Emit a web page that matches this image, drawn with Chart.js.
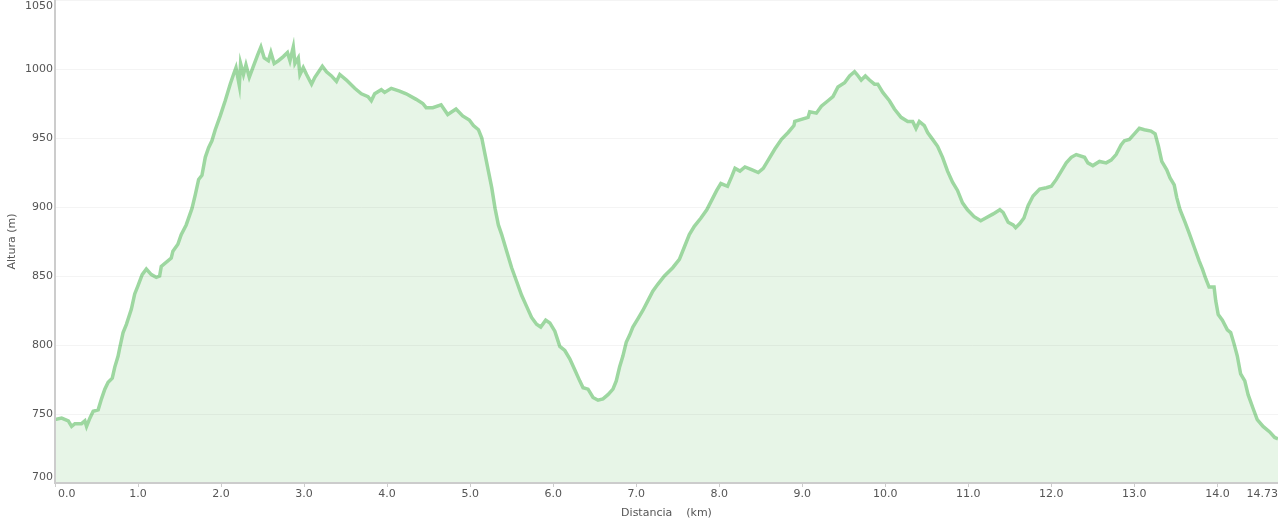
<!DOCTYPE html>
<html>
<head>
<meta charset="utf-8">
<title>Perfil</title>
<script src="https://cdn.jsdelivr.net/npm/chart.js@4.4.0/dist/chart.umd.min.js"></script>
<style>
html,body{margin:0;padding:0;background:#fff;}
#wrap{width:1278px;height:524px;}
</style>
</head>
<body>
<div id="wrap"><canvas id="perfil"></canvas></div>
<script>
// datos del perfil
let distancia = [0.00,0.08,0.16,0.20,0.24,0.32,0.36,0.38,0.42,0.46,0.52,0.56,0.60,0.64,0.69,0.72,0.76,0.78,0.82,0.86,
	0.92,0.96,1.00,1.05,1.10,1.16,1.22,1.26,1.28,1.40,1.42,1.48,1.52,1.58,1.65,1.69,1.73,1.77,1.81,1.85,
	1.89,1.93,1.99,2.05,2.11,2.15,2.18,2.22,2.235,2.27,2.30,2.34,2.39,2.44,2.48,2.52,2.57,2.60,2.64,2.69,
	2.75,2.80,2.83,2.87,2.89,2.93,2.95,2.99,3.03,3.09,3.13,3.22,3.27,3.33,3.39,3.43,3.51,3.61,3.69,3.77,
	3.81,3.85,3.93,3.97,4.05,4.15,4.23,4.35,4.43,4.47,4.55,4.65,4.73,4.83,4.91,4.99,5.04,5.10,5.14,5.18,
	5.22,5.26,5.30,5.34,5.38,5.44,5.50,5.56,5.62,5.68,5.74,5.80,5.85,5.91,5.96,6.02,6.08,6.14,6.20,6.26,
	6.32,6.36,6.42,6.48,6.54,6.60,6.66,6.72,6.76,6.80,6.84,6.88,6.92,6.96,7.02,7.08,7.14,7.20,7.26,7.34,
	7.44,7.52,7.58,7.64,7.70,7.78,7.85,7.91,7.97,8.02,8.10,8.15,8.19,8.25,8.31,8.39,8.47,8.53,8.59,8.67,
	8.75,8.83,8.90,8.91,9.07,9.09,9.17,9.23,9.31,9.37,9.43,9.51,9.57,9.63,9.66,9.71,9.76,9.81,9.87,9.91,
	9.97,10.05,10.11,10.19,10.27,10.33,10.37,10.41,10.47,10.51,10.57,10.63,10.69,10.75,10.81,10.87,10.93,10.99,11.07,11.15,
	11.21,11.30,11.38,11.42,11.48,11.54,11.57,11.62,11.67,11.72,11.78,11.86,11.94,12.00,12.06,12.12,12.18,12.24,12.30,12.40,
	12.44,12.50,12.58,12.66,12.72,12.78,12.84,12.88,12.94,13.00,13.06,13.12,13.20,13.25,13.29,13.33,13.39,13.43,13.48,13.51,
	13.55,13.61,13.66,13.72,13.78,13.82,13.86,13.90,13.96,13.98,14.01,14.06,14.12,14.16,14.20,14.24,14.28,14.33,14.37,14.43,
	14.48,14.55,14.63,14.69,14.73];
let altura = [746,747,745,741,743,743,745,741,747,752,753,761,768,773,776,784,792,798,809,815,
	826,837,843,851,855,851,849,850,857,863,868,873,880,887,899,909,920,923,936,943,
	948,956,966,977,989,996,1001,988,1004,996,1003,994,1002,1010,1016,1008,1006,1012,1004,1006,
	1009,1012,1006,1016,1004,1008,996,1001,996,989,994,1002,998,995,991,996,992,986,982,980,
	977,982,985,983,986,984,982,978,975,972,972,974,967,971,966,963,959,956,950,938,
	926,914,899,887,880,868,856,846,836,828,820,815,813,818,816,810,799,796,790,782,
	774,769,768,762,760,761,764,768,774,784,792,802,807,813,819,825,832,839,844,850,
	856,862,871,880,886,892,898,905,912,917,915,922,928,926,929,927,925,928,934,942,
	949,954,959,962,965,969,968,973,977,980,987,990,995,998,996,992,995,992,989,989,
	983,977,971,965,962,962,957,962,959,954,949,944,936,926,918,912,903,898,893,890,
	892,895,898,896,889,887,885,888,892,901,908,913,914,915,920,926,932,936,938,936,
	932,930,933,932,934,938,945,948,949,953,957,956,955,953,944,933,927,921,916,907,
	898,889,881,871,861,855,848,842,842,832,822,818,811,809,801,792,779,774,764,754,
	746,741,737,733,732];
let xTicks = [0,1,2,3,4,5,6,7,8,9,10,11,12,13,14,14.73];
let yTicks = [700,750,800,850,900,950,1000,1050];

let fuente = '11px "DejaVu Sans", Verdana, sans-serif';
let gris = '#555555';

// etiquetas de los ejes dibujadas a mano (la primera y la ultima se meten hacia dentro)
let etiquetas = {
	id:'etiquetas',
	afterDraw:chart=>{
		let ctx = chart.ctx;
		let area = chart.chartArea;
		let xs = chart.scales.x;
		let ys = chart.scales.y;
		ctx.save();
		ctx.font = fuente;
		ctx.fillStyle = gris;
		ctx.textBaseline = 'middle';
		ctx.textAlign = 'right';
		yTicks.forEach(v=>{
			let py = ys.getPixelForValue(v);
			py = Math.min(Math.max(py, area.top+6), area.bottom-6);
			ctx.fillText(String(v), area.left-2, py);
		})
		xTicks.forEach((v,i)=>{
			let px = xs.getPixelForValue(v);
			let txt = (v%1===0) ? v.toFixed(1) : String(v);
			if(i===0){
				ctx.textAlign = 'left';
				px = px+3;
			}else if(i===xTicks.length-1){
				ctx.textAlign = 'right';
				px = chart.width;
			}else{
				ctx.textAlign = 'center';
			}
			ctx.fillText(txt, px, area.bottom+11);
		})
		ctx.restore();
	}
}

let puntos = distancia.map((d,i)=>({x:d, y:altura[i]}));

new Chart(document.getElementById('perfil'), {
	type:'line',
	data:{
		datasets:[{
			data:puntos,
			borderColor:'#9dd7a0',
			backgroundColor:'rgba(158,216,160,0.25)',
			borderWidth:3.5,
			fill:'origin',
			pointRadius:0,
			tension:0
		}]
	},
	options:{
		responsive:true,
		maintainAspectRatio:false,
		animation:false,
		layout:{padding:0},
		plugins:{
			legend:{display:false},
			tooltip:{enabled:false}
		},
		scales:{
			x:{
				type:'linear',
				min:0,
				max:14.73,
				afterBuildTicks:s=>{ s.ticks = xTicks.map(v=>({value:v})) },
				afterFit:s=>{ s.height = 41 },
				ticks:{display:false},
				grid:{drawOnChartArea:false, drawTicks:true, tickLength:4, color:'#cccccc'},
				border:{color:'#cccccc', width:2, z:2},
				title:{display:true, text:'Distancia    (km)', color:gris,
					font:{family:'"DejaVu Sans", Verdana, sans-serif', size:11},
					padding:{top:0, bottom:4}}
			},
			y:{
				min:700,
				max:1050,
				afterBuildTicks:s=>{ s.ticks = yTicks.map(v=>({value:v})) },
				afterFit:s=>{ s.width = 55 },
				ticks:{display:false},
				grid:{drawTicks:false, color:'rgba(0,0,0,0.045)', z:1},
				border:{color:'#cccccc', width:2, z:2},
				title:{display:true, text:'Altura (m)', color:gris,
					font:{family:'"DejaVu Sans", Verdana, sans-serif', size:11},
					padding:{top:6, bottom:0}}
			}
		}
	},
	plugins:[etiquetas]
});
</script>
</body>
</html>
